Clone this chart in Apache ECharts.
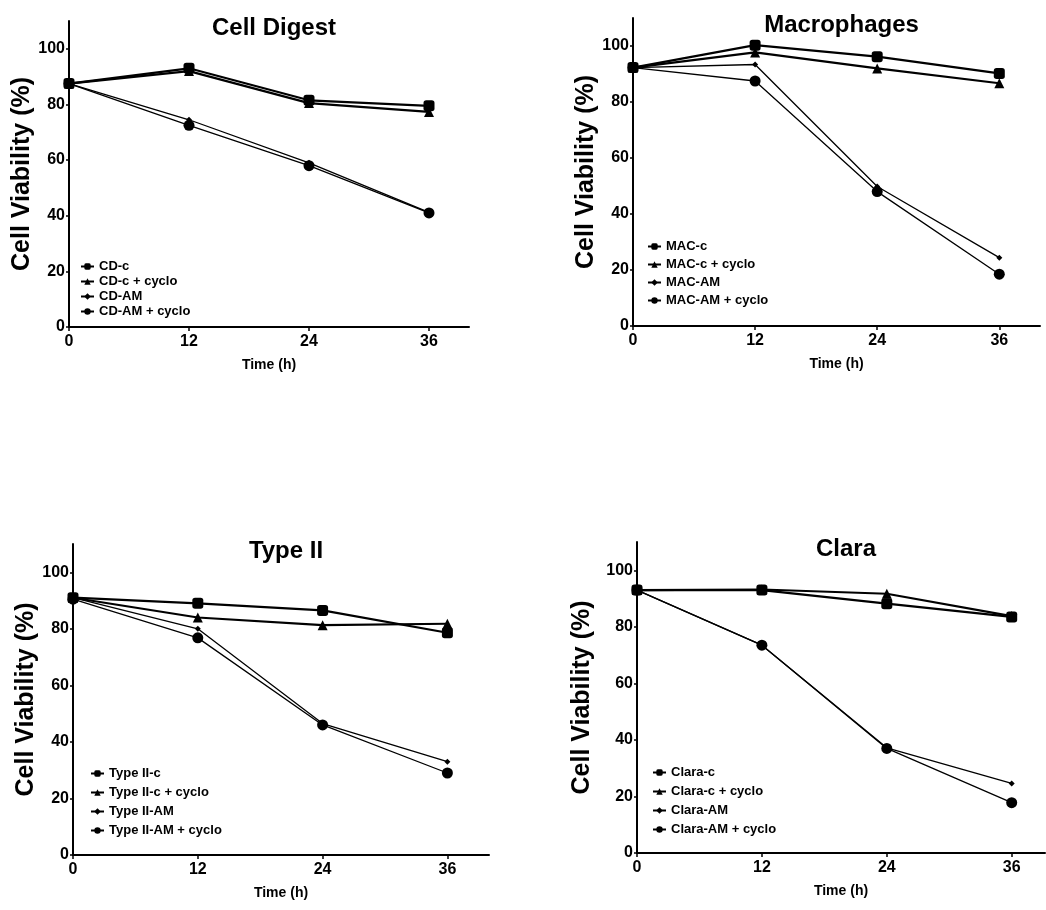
<!DOCTYPE html>
<html lang="en">
<head>
    <meta charset="UTF-8">
    <title>Cell Viability</title>
    <script src="https://cdn.jsdelivr.net/npm/echarts@6/dist/echarts.min.js"></script>
    <style>
        body { margin: 0; padding: 0; background: #fff; }
        #chart { width: 1046px; height: 910px; }
    </style>
</head>
<body>
    <div id="chart"></div>
    <script>
        // time points (h) and tick labels
        const hours = [0, 12, 24, 36];
        const xTicks = [0, 12, 24, 36];
        const yTicks = [0, 20, 40, 60, 80, 100];

        const panelTitles = ['Cell Digest', 'Macrophages', 'Type II', 'Clara'];
        const legendNames = [
            ['CD-c', 'CD-c + cyclo', 'CD-AM', 'CD-AM + cyclo'],
            ['MAC-c', 'MAC-c + cyclo', 'MAC-AM', 'MAC-AM + cyclo'],
            ['Type II-c', 'Type II-c + cyclo', 'Type II-AM', 'Type II-AM + cyclo'],
            ['Clara-c', 'Clara-c + cyclo', 'Clara-AM', 'Clara-AM + cyclo']
        ];

        // viability values (%)
        const cellDigestC = [87.5, 93, 81.5, 79.5];
        const cellDigestCCyclo = [87.5, 92, 80.5, 77.3];
        const cellDigestAM = [87.5, 74.5, 59, 41.2];
        const cellDigestAMCyclo = [87.5, 72.5, 58, 41];

        const macC = [92.3, 100.3, 96.2, 90.2];
        const macCCyclo = [92.3, 97.7, 92, 86.7];
        const macAM = [92.3, 93.4, 49.8, 24.4];
        const macAMCyclo = [92.3, 87.5, 48, 18.5];

        const type2C = [91, 89, 86.5, 78.6];
        const type2CCyclo = [91, 84, 81.3, 81.8];
        const type2AM = [91, 80, 46.5, 33];
        const type2AMCyclo = [90.5, 76.8, 46, 29];

        const claraC = [93, 93, 88.2, 83.5];
        const claraCCyclo = [93, 93.2, 91.7, 83.8];
        const claraAM = [93, 73.5, 37.2, 24.6];
        const claraAMCyclo = [93, 73.5, 37, 17.8];

        const panelData = [
            [cellDigestC, cellDigestCCyclo, cellDigestAM, cellDigestAMCyclo],
            [macC, macCCyclo, macAM, macAMCyclo],
            [type2C, type2CCyclo, type2AM, type2AMCyclo],
            [claraC, claraCCyclo, claraAM, claraAMCyclo]
        ];

        const font = 'Liberation Sans, Arial, sans-serif';

        // layout of the four panels
        const grids = [
            { left: 69, top: 21, width: 400, height: 306 },
            { left: 633, top: 18, width: 407, height: 308 },
            { left: 73, top: 544, width: 416, height: 311 },
            { left: 637, top: 542, width: 408, height: 311 }
        ];
        const xMax = [40, 40, 40, 39.2];
        const yNameGap = [26, 34, 34, 42];
        const legendPos = [
            { left: 80, top: 260, itemGap: 2 },
            { left: 647, top: 240, itemGap: 5 },
            { left: 90, top: 767, itemGap: 6 },
            { left: 652, top: 766, itemGap: 6 }
        ];

        // marker per series kind: control, control + cyclo, AM, AM + cyclo
        const markers = [
            { symbol: 'roundRect', size: 11, width: 2.2 },
            { symbol: 'triangle', size: 10, width: 2.2 },
            { symbol: 'diamond', size: 6, width: 1.3 },
            { symbol: 'circle', size: 11, width: 1.3 }
        ];

        const chart = echarts.init(document.getElementById('chart'));

        const option = {
            backgroundColor: '#fff',
            animation: false,
            title: grids.map((g, i) => ({
                text: panelTitles[i],
                left: g.left + g.width / 2,
                textAlign: 'center',
                top: g.top - 10,
                textStyle: { fontFamily: font, fontWeight: 'bold', fontSize: 24, color: '#000' }
            })),
            legend: legendPos.map((p, i) => ({
                orient: 'vertical',
                left: p.left,
                top: p.top,
                itemGap: p.itemGap,
                itemWidth: 13,
                itemHeight: 8,
                padding: 0,
                data: legendNames[i],
                textStyle: { fontFamily: font, fontWeight: 'bold', fontSize: 13, color: '#000' }
            })),
            grid: grids,
            xAxis: grids.map((g, i) => ({
                gridIndex: i,
                type: 'value',
                min: 0,
                max: xMax[i],
                name: 'Time (h)',
                nameLocation: 'middle',
                nameGap: 31,
                nameTextStyle: { fontFamily: font, fontWeight: 'bold', fontSize: 14, color: '#000' },
                axisLine: { show: true, lineStyle: { color: '#000', width: 2 } },
                axisTick: { show: true, customValues: xTicks, length: 4, lineStyle: { color: '#000', width: 1.5 } },
                axisLabel: { customValues: xTicks, margin: 7, fontFamily: font, fontWeight: 'bold', fontSize: 16, color: '#000' },
                splitLine: { show: false }
            })),
            yAxis: grids.map((g, i) => ({
                gridIndex: i,
                type: 'value',
                min: 0,
                max: 110,
                name: 'Cell Viability (%)',
                nameLocation: 'middle',
                nameGap: yNameGap[i],
                nameTextStyle: { fontFamily: font, fontWeight: 'bold', fontSize: 25, color: '#000' },
                axisLine: { show: true, lineStyle: { color: '#000', width: 2 } },
                axisTick: { show: true, customValues: yTicks, length: 3, lineStyle: { color: '#000', width: 1.5 } },
                axisLabel: { customValues: yTicks, margin: 4, fontFamily: font, fontWeight: 'bold', fontSize: 16, color: '#000' },
                splitLine: { show: false }
            })),
            series: []
        };

        panelData.forEach((group, i) => {
            group.forEach((values, k) => {
                const m = markers[k];
                option.series.push({
                    name: legendNames[i][k],
                    type: 'line',
                    xAxisIndex: i,
                    yAxisIndex: i,
                    data: hours.map((h, j) => [h, values[j]]),
                    symbol: m.symbol,
                    symbolSize: m.size,
                    showAllSymbol: true,
                    lineStyle: { color: '#000', width: m.width },
                    itemStyle: { color: '#000' }
                });
            });
        });

        chart.setOption(option);
    </script>
</body>
</html>
